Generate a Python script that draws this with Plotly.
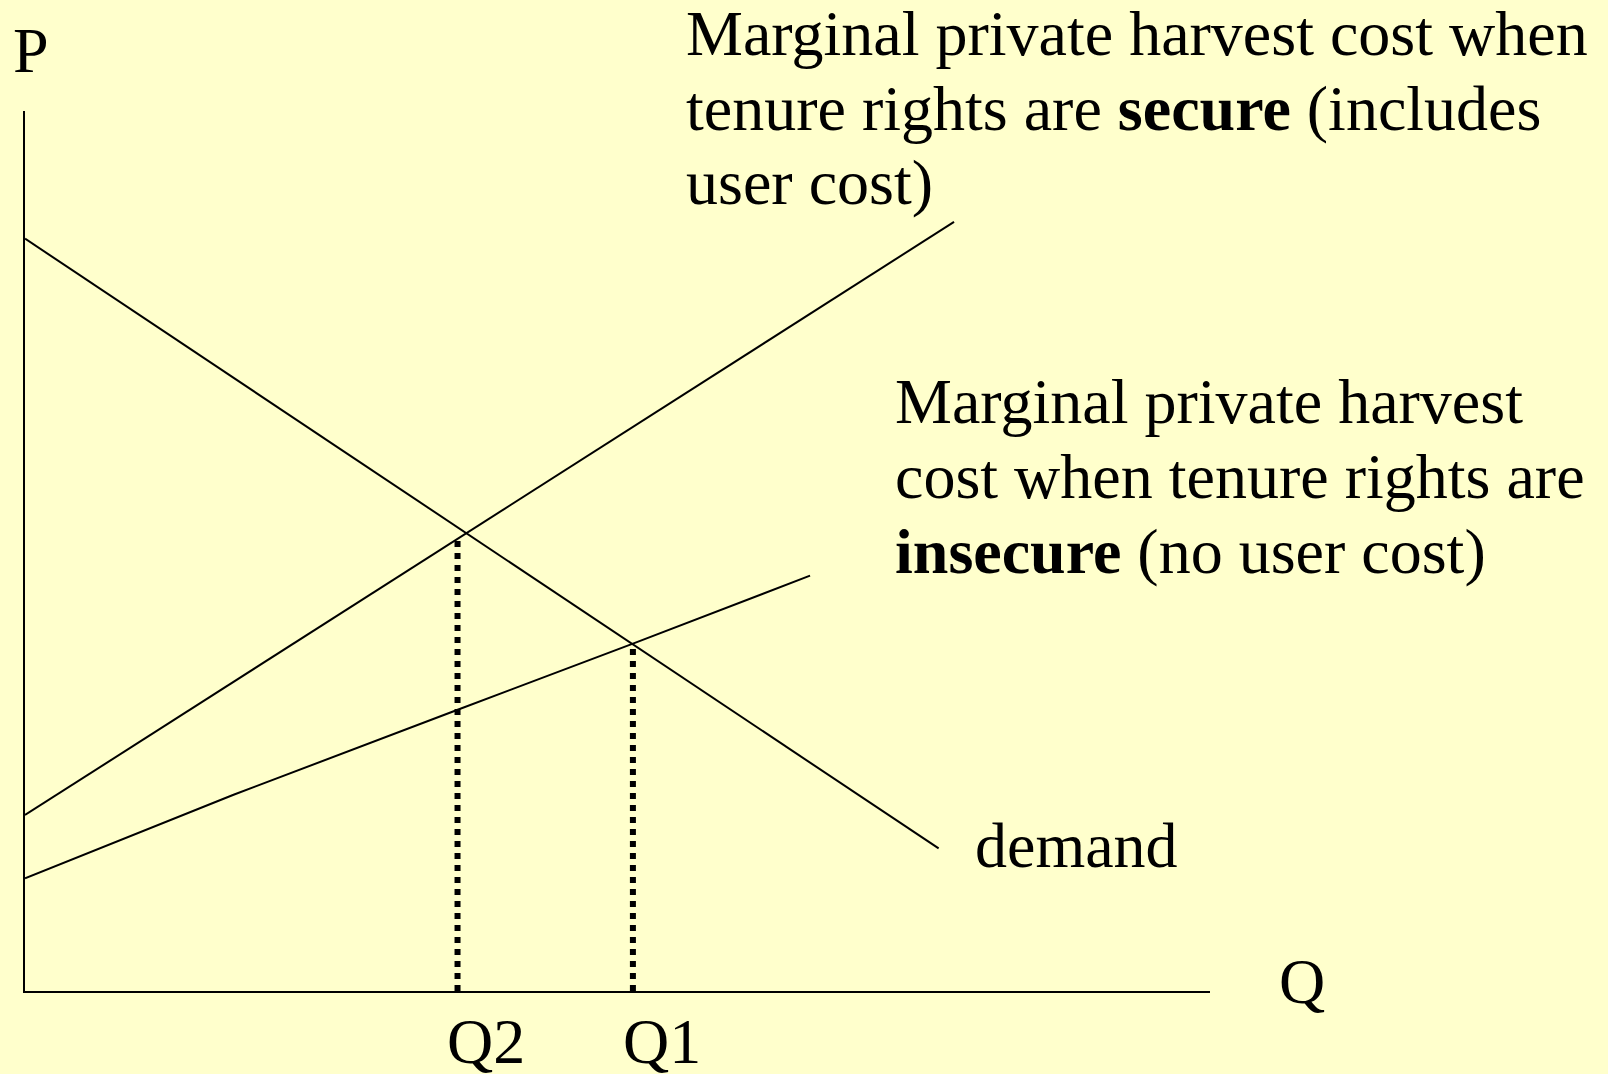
import numpy as np
import plotly.graph_objects as go

# ---- data (abstract units: Q on 0..100, P on 0..100) ----
demand_q = [0.0, 77.1]
demand_p = [85.5, 16.2]

secure_q = [0.0, 78.4]
secure_p = [20.0, 87.4]

insecure_q = [0.0, 17.6, 36.4, 51.25, 66.25]
insecure_p = [12.8, 22.3, 31.9, 39.45, 47.2]

q_marks = [36.5, 51.3]          # Q2, Q1
q_labels = ["Q2", "Q1"]

# ---- layout geometry (pixels) ----
W, H = 1608, 1074
L, R, T, B = 25, 1210, 111, 991
FONT = "Liberation Serif, Times New Roman, serif"
FS = 64

def px(x):
    return (x - L) / (R - L)

def py_base(baseline):
    # centre of a single text line whose baseline sits at `baseline` px
    c = baseline - 0.3375 * FS
    return (B - c) / (B - T)

fig = go.Figure()

line_style = dict(color="black", width=2)
fig.add_trace(go.Scatter(x=demand_q, y=demand_p, mode="lines", line=line_style, hoverinfo="skip"))
fig.add_trace(go.Scatter(x=secure_q, y=secure_p, mode="lines", line=line_style, hoverinfo="skip"))
fig.add_trace(go.Scatter(x=insecure_q, y=insecure_p, mode="lines", line=line_style, hoverinfo="skip"))

# dotted drop lines: Q2 up to the secure curve, Q1 up to the insecure curve
q2_top = float(np.interp(q_marks[0], secure_q, secure_p))
q1_top = float(np.interp(q_marks[1], insecure_q, insecure_p))
dot_style = dict(color="black", width=6, dash="6px,6px")
fig.add_trace(go.Scatter(x=[q_marks[0], q_marks[0]], y=[0, q2_top], mode="lines", line=dot_style, hoverinfo="skip"))
fig.add_trace(go.Scatter(x=[q_marks[1], q_marks[1]], y=[0, q1_top], mode="lines", line=dot_style, hoverinfo="skip"))

annotations = []

def label(text, left, baseline):
    annotations.append(dict(
        text=text, xref="paper", yref="paper",
        x=px(left), y=py_base(baseline), xanchor="left", yanchor="middle",
        showarrow=False, align="left",
        font=dict(family=FONT, size=FS, color="black"),
    ))

# secure curve label
label("Marginal private harvest cost when", 684, 55)
label("tenure rights are <b>secure</b> (includes", 684, 130)
label("user cost)", 684, 204)
# insecure curve label
label("Marginal private harvest", 893, 423)
label("cost when tenure rights are", 893, 498)
label("<b>insecure</b> (no user cost)", 893, 573)
# demand
label("demand", 973, 867)
# axis labels
label("P", 11, 72)
label("Q", 1277, 1003)
label(q_labels[0], 445, 1063)
label(q_labels[1], 621, 1063)

fig.update_layout(
    width=W, height=H,
    margin=dict(l=L, r=W - R, t=T, b=H - B, pad=0),
    paper_bgcolor="#FFFFCC", plot_bgcolor="#FFFFCC",
    showlegend=False,
    annotations=annotations,
    xaxis=dict(range=[0, 100], showgrid=False, zeroline=False, showticklabels=False,
               ticks="", showline=True, linecolor="black", linewidth=2, fixedrange=True),
    yaxis=dict(range=[0, 100], showgrid=False, zeroline=False, showticklabels=False,
               ticks="", showline=True, linecolor="black", linewidth=2, fixedrange=True),
)

fig.write_html(
    "out.html",
    config={"displayModeBar": False},
    post_script="document.body.style.margin='0';document.body.style.overflow='hidden';"
                "document.body.style.background='#FFFFCC';",
)
